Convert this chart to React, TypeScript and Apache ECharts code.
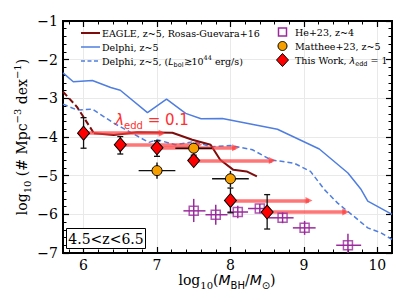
import React, { useEffect, useRef } from "react";
import * as echarts from "echarts";

// ---------- data ----------
const delphiX = [5.72, 5.86, 6.12, 6.37, 6.5, 6.87, 7.13, 7.39, 7.6, 7.89, 8.64, 9.21, 9.6, 9.78, 9.87, 10.2];
const delphiY = [-2.34, -2.57, -2.54, -2.72, -2.79, -3.37, -3.02, -3.39, -3.53, -3.52, -3.8, -4.31, -4.93, -5.36, -5.66, -6.0];

const delphiLbolX = [5.72, 5.91, 6.12, 6.41, 6.89, 7.0, 7.25, 7.5, 7.73, 8.0, 8.3, 8.55, 8.87, 9.09, 9.28, 9.46, 9.68, 9.87, 10.05, 10.2];
const delphiLbolY = [-3.15, -3.3, -3.28, -3.64, -4.14, -4.07, -4.2, -4.12, -4.25, -4.22, -4.33, -4.59, -4.68, -4.89, -5.36, -5.71, -6.05, -6.35, -6.48, -6.65];

const eagleDashX = [5.72, 5.91, 6.14];
const eagleDashY = [-2.83, -3.22, -3.9];
const eagleX = [6.14, 6.41, 6.73, 7.21, 7.48, 7.73, 7.86, 8.04, 8.22, 8.36];
const eagleY = [-3.9, -3.95, -3.88, -3.89, -4.07, -4.2, -4.59, -4.85, -4.89, -5.02];

const workX = [6.0, 6.5, 7.0, 7.5, 8.0, 8.5];
const workY = [-3.9, -4.2, -4.28, -4.61, -5.64, -5.94];
const workYHi = [-3.5, -3.99, -4.1, -4.47, -5.32, -5.49];
const workYLo = [-4.29, -4.44, -4.5, -4.66, -5.96, -6.38];
const arrowShift = 1.07;

const mattheeX = [7.0, 7.5, 8.0];
const mattheeY = [-4.87, -4.29, -5.08];
const mattheeXLo = [6.75, 7.25, 7.75];
const mattheeXHi = [7.25, 7.75, 8.25];
const mattheeYHi = [-4.66, -4.15, -4.88];
const mattheeYLo = [-5.08, -4.42, -5.3];

const heX = [7.5, 7.8, 8.1, 8.4, 8.71, 9.01, 9.6];
const heY = [-5.91, -6.01, -5.94, -5.85, -6.09, -6.35, -6.8];
const heXLo = [7.36, 7.66, 7.96, 8.24, 8.52, 8.85, 9.44];
const heXHi = [7.66, 7.96, 8.24, 8.52, 8.86, 9.16, 9.78];
const heYHi = [-5.6, -5.75, -5.78, -5.73, -5.95, -6.17, -6.5];
const heYLo = [-6.2, -6.27, -6.1, -5.97, -6.23, -6.53, -7.1];

const xMajor = [6, 7, 8, 9, 10];
const xMinor = [5.8, 6.2, 6.4, 6.6, 6.8, 7.2, 7.4, 7.6, 7.8, 8.2, 8.4, 8.6, 8.8, 9.2, 9.4, 9.6, 9.8, 10.2];

// ---------- style ----------
const SERIF = "DejaVu Serif";
const SANS = "DejaVu Sans";
const C_DELPHI = "#4f7ee0";
const C_EAGLE = "#7d0c0c";
const C_PURPLE = "#9a2a9c";
const C_ORANGE = "#f5a000";
const C_RED = "#ff0000";
const C_ARROW = "rgba(255,60,60,0.7)";
const LEG_FS = 9.5;

const XMIN = 5.72;
const XMAX = 10.2;

function pairs(xs: number[], ys: number[]) {
  return xs.map((x, i) => [x, ys[i]]);
}

function errSeries(data: number[][], color: string, lw: number, cap: number, z: number) {
  return {
    type: "custom",
    xAxisIndex: 0,
    yAxisIndex: 0,
    z,
    clip: true,
    renderItem: (params: any, api: any) => {
      const x = api.value(0), y = api.value(1);
      const xl = api.value(2), xh = api.value(3), yl = api.value(4), yh = api.value(5);
      const children: any[] = [];
      const st = { stroke: color, lineWidth: lw };
      if (xl !== xh) {
        const a = api.coord([xl, y]);
        const b = api.coord([xh, y]);
        children.push({ type: "line", shape: { x1: a[0], y1: a[1], x2: b[0], y2: b[1] }, style: st });
      }
      if (yl !== yh) {
        const a = api.coord([x, yl]);
        const b = api.coord([x, yh]);
        children.push({ type: "line", shape: { x1: a[0], y1: a[1], x2: b[0], y2: b[1] }, style: st });
        if (cap > 0) {
          children.push({ type: "line", shape: { x1: a[0] - cap, y1: a[1], x2: a[0] + cap, y2: a[1] }, style: st });
          children.push({ type: "line", shape: { x1: b[0] - cap, y1: b[1], x2: b[0] + cap, y2: b[1] }, style: st });
        }
      }
      return { type: "group", children };
    },
    data,
  };
}

export default function App() {
  const ref = useRef<HTMLDivElement>(null);

  useEffect(() => {
    if (!ref.current) return;
    const chart = echarts.init(ref.current, null, { renderer: "svg" });

    const xBase = {
      type: "value",
      min: XMIN,
      max: XMAX,
      gridIndex: 0,
      axisLine: { show: true, onZero: false, lineStyle: { color: "#000", width: 2 } },
    };
    const tickLabelStyle = { color: "#000", fontSize: 14, fontFamily: SERIF };

    const legText = (x: number, y: number, text: string) => ({
      type: "text", x, y, z: 20,
      style: { text, font: `${LEG_FS}px "${SERIF}"`, fill: "#000", verticalAlign: "middle" },
    });
    const legRich = {
      t: { fontFamily: SERIF, fontSize: LEG_FS, fill: "#000", lineHeight: 14, verticalAlign: "middle" },
      i: { fontFamily: SANS, fontStyle: "italic", fontSize: LEG_FS, fill: "#000", lineHeight: 14, verticalAlign: "middle" },
      sb: { fontFamily: SANS, fontSize: 6.5, fill: "#000", lineHeight: 14, verticalAlign: "bottom" },
      sp: { fontFamily: SERIF, fontSize: 6.5, fill: "#000", lineHeight: 14, verticalAlign: "top" },
    };

    const option: any = {
      animation: false,
      backgroundColor: "#fff",
      grid: { left: 63, right: 15, top: 21, bottom: 52, containLabel: false },
      xAxis: [
        {
          ...xBase,
          position: "bottom",
          axisTick: { show: true, inside: true, length: 6, customValues: xMajor, lineStyle: { color: "#000", width: 1.2 } },
          axisLabel: { show: true, customValues: xMajor, margin: 5, ...tickLabelStyle },
          splitLine: { show: true, lineStyle: { color: "#e9e9e9", width: 1 } },
        },
        {
          ...xBase,
          position: "bottom",
          axisTick: { show: true, inside: true, length: 3.5, customValues: xMinor, lineStyle: { color: "#000", width: 1 } },
          axisLabel: { show: false },
          splitLine: { show: false },
        },
        {
          ...xBase,
          position: "top",
          axisTick: { show: true, inside: true, length: 6, customValues: xMajor, lineStyle: { color: "#000", width: 1.2 } },
          axisLabel: { show: false },
          splitLine: { show: false },
        },
        {
          ...xBase,
          position: "top",
          axisTick: { show: true, inside: true, length: 3.5, customValues: xMinor, lineStyle: { color: "#000", width: 1 } },
          axisLabel: { show: false },
          splitLine: { show: false },
        },
      ],
      yAxis: [
        {
          type: "value",
          position: "left",
          min: -7,
          max: -1,
          interval: 1,
          axisLine: { show: true, onZero: false, lineStyle: { color: "#000", width: 2 } },
          axisTick: { show: true, inside: true, length: 6, lineStyle: { color: "#000", width: 1.2 } },
          minorTick: { show: true, splitNumber: 5, length: 3.5, lineStyle: { color: "#000", width: 1 } },
          axisLabel: {
            show: true,
            margin: 5,
            ...tickLabelStyle,
            formatter: (v: number) => String(v).replace("-", "\u2212"),
          },
          splitLine: { show: true, lineStyle: { color: "#e9e9e9", width: 1 } },
        },
        {
          type: "value",
          position: "right",
          min: -7,
          max: -1,
          interval: 1,
          axisLine: { show: true, onZero: false, lineStyle: { color: "#000", width: 2 } },
          axisTick: { show: true, inside: true, length: 6, lineStyle: { color: "#000", width: 1.2 } },
          minorTick: { show: true, splitNumber: 5, length: 3.5, lineStyle: { color: "#000", width: 1 } },
          axisLabel: { show: false },
          splitLine: { show: false },
        },
      ],
      series: [
        {
          type: "line",
          name: "Delphi",
          data: pairs(delphiX, delphiY),
          showSymbol: false,
          z: 2,
          lineStyle: { color: C_DELPHI, width: 1.5 },
        },
        {
          type: "line",
          name: "Delphi Lbol",
          data: pairs(delphiLbolX, delphiLbolY),
          showSymbol: false,
          z: 2,
          lineStyle: { color: C_DELPHI, width: 1.5, type: [5, 3] },
        },
        {
          type: "line",
          name: "EAGLE dashed",
          data: pairs(eagleDashX, eagleDashY),
          showSymbol: false,
          z: 2,
          lineStyle: { color: C_EAGLE, width: 2, type: [6, 3] },
        },
        {
          type: "line",
          name: "EAGLE",
          data: pairs(eagleX, eagleY),
          showSymbol: false,
          z: 3,
          lineStyle: { color: C_EAGLE, width: 2 },
        },
        {
          type: "scatter",
          name: "arrows",
          data: [],
          z: 4,
          markLine: {
            silent: true,
            symbol: ["none", "triangle"],
            symbolSize: [7, 7],
            label: { show: false },
            lineStyle: { color: C_ARROW, width: 3.5, type: "solid", opacity: 1 },
            itemStyle: { color: C_ARROW },
            emphasis: { disabled: true },
            data: workX.map((x, i) => [
              { coord: [x, workY[i]] },
              { coord: [x + arrowShift, workY[i]] },
            ]),
          },
        },
        errSeries(
          heX.map((x, i) => [x, heY[i], heXLo[i], heXHi[i], heYLo[i], heYHi[i]]),
          C_PURPLE, 1.5, 0, 6
        ),
        {
          type: "scatter",
          name: "He+23",
          data: pairs(heX, heY),
          symbol: "rect",
          symbolSize: 9,
          z: 5,
          itemStyle: { color: "rgba(0,0,0,0)", borderColor: C_PURPLE, borderWidth: 1.5 },
        },
        errSeries(
          mattheeX.map((x, i) => [x, mattheeY[i], mattheeXLo[i], mattheeXHi[i], mattheeYLo[i], mattheeYHi[i]]),
          "#111", 1.4, 0, 7
        ),
        {
          type: "scatter",
          name: "Matthee+23",
          data: pairs(mattheeX, mattheeY),
          symbol: "circle",
          symbolSize: 10,
          z: 8,
          itemStyle: { color: C_ORANGE, borderColor: "#000", borderWidth: 1, opacity: 1 },
        },
        errSeries(
          workX.map((x, i) => [x, workY[i], x, x, workYLo[i], workYHi[i]]),
          "#111", 1.3, 3, 9
        ),
        {
          type: "scatter",
          name: "This Work",
          data: pairs(workX, workY),
          symbol: "diamond",
          symbolSize: [12, 14],
          z: 10,
          itemStyle: { color: C_RED, borderColor: "#000", borderWidth: 1, opacity: 1 },
        },
      ],
      graphic: [
        // lambda label
        {
          type: "text",
          x: 152,
          y: 120,
          z: 20,
          style: {
            text: "{l|\u03bb}{s|edd}{n| = 0.1}",
            align: "center",
            verticalAlign: "middle",
            fill: "#ff3030",
            rich: {
              l: { fontFamily: SANS, fontStyle: "italic", fontSize: 15, fill: "#ff3030", lineHeight: 20, verticalAlign: "middle" },
              s: { fontFamily: SANS, fontSize: 10, fill: "#ff3030", lineHeight: 20, verticalAlign: "bottom" },
              n: { fontFamily: SANS, fontSize: 15, fill: "#ff3030", lineHeight: 20, verticalAlign: "middle" },
            },
          },
        },
        // redshift box
        {
          type: "rect",
          shape: { x: 66.5, y: 228.5, width: 79, height: 20 },
          style: { fill: "#fff", stroke: "#000", lineWidth: 1 },
          z: 20,
        },
        {
          type: "text",
          x: 106,
          y: 238.5,
          z: 21,
          style: { text: "4.5<z<6.5", font: `14px "${SERIF}"`, fill: "#000", align: "center", verticalAlign: "middle" },
        },
        // left legend
        { type: "line", shape: { x1: 81, y1: 33, x2: 100, y2: 33 }, style: { stroke: C_EAGLE, lineWidth: 2 }, z: 20 },
        legText(102, 33, "EAGLE, z~5, Rosas-Guevara+16"),
        { type: "line", shape: { x1: 81, y1: 47, x2: 100, y2: 47 }, style: { stroke: C_DELPHI, lineWidth: 1.5 }, z: 20 },
        legText(102, 47, "Delphi, z~5"),
        { type: "line", shape: { x1: 81, y1: 61, x2: 100, y2: 61 }, style: { stroke: C_DELPHI, lineWidth: 1.5, lineDash: [4, 2.5] }, z: 20 },
        {
          type: "text", x: 102, y: 61, z: 20,
          style: {
            text: "{t|Delphi, z~5, (}{i|L}{sb|bol}{t|\u227310}{sp|44}{t| erg/s)}",
            verticalAlign: "middle",
            rich: legRich,
          },
        },
        // right legend
        { type: "rect", shape: { x: 278.5, y: 28, width: 8, height: 8 }, style: { fill: "none", stroke: C_PURPLE, lineWidth: 1.5 }, z: 20 },
        legText(295, 32, "He+23, z~4"),
        { type: "circle", shape: { cx: 282.5, cy: 46, r: 4.5 }, style: { fill: C_ORANGE, stroke: "#000", lineWidth: 1 }, z: 20 },
        legText(295, 46, "Matthee+23, z~5"),
        {
          type: "polygon",
          shape: { points: [[282.5, 53.5], [288.5, 60], [282.5, 66.5], [276.5, 60]] },
          style: { fill: C_RED, stroke: "#000", lineWidth: 1 },
          z: 20,
        },
        {
          type: "text", x: 295, y: 60, z: 20,
          style: {
            text: "{t|This Work, }{i|\u03bb}{sb|edd}{t| = 1}",
            verticalAlign: "middle",
            rich: legRich,
          },
        },
        // y-axis title
        {
          type: "text",
          x: 22,
          y: 137,
          rotation: Math.PI / 2,
          z: 20,
          style: {
            text: "{t|log}{sb|10}{t| (# Mpc}{sp|\u22123}{t| dex}{sp|\u22121}{t|)}",
            align: "center",
            verticalAlign: "middle",
            rich: {
              t: { fontFamily: SERIF, fontSize: 14, fill: "#000", lineHeight: 20, verticalAlign: "middle" },
              sb: { fontFamily: SERIF, fontSize: 10, fill: "#000", lineHeight: 20, verticalAlign: "bottom" },
              sp: { fontFamily: SERIF, fontSize: 10, fill: "#000", lineHeight: 20, verticalAlign: "top" },
            },
          },
        },
        // x-axis title
        {
          type: "text",
          x: 227,
          y: 280,
          z: 20,
          style: {
            text: "{t|log}{sb|10}{t|(}{i|M}{sb2|BH}{t|/}{i|M}{sb2|\u2299}{t|)}",
            align: "center",
            verticalAlign: "middle",
            rich: {
              t: { fontFamily: SERIF, fontSize: 14, fill: "#000", lineHeight: 20, verticalAlign: "middle" },
              i: { fontFamily: SANS, fontStyle: "italic", fontSize: 14, fill: "#000", lineHeight: 20, verticalAlign: "middle" },
              sb: { fontFamily: SERIF, fontSize: 10, fill: "#000", lineHeight: 20, verticalAlign: "bottom" },
              sb2: { fontFamily: SANS, fontSize: 10, fill: "#000", lineHeight: 20, verticalAlign: "bottom" },
            },
          },
        },
      ],
    };

    chart.setOption(option);
    return () => chart.dispose();
  }, []);

  return <div ref={ref} style={{ width: 407, height: 305, position: "absolute", left: 0, top: 0 }} />;
}
